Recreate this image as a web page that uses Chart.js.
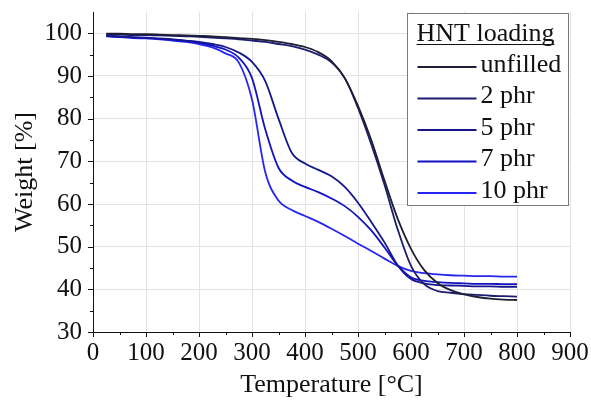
<!DOCTYPE html>
<html>
<head>
<meta charset="utf-8">
<script src="https://cdn.jsdelivr.net/npm/chart.js@4.4.1/dist/chart.umd.min.js"></script>
<style>
  html, body { margin: 0; padding: 0; background: #ffffff; }
  #wrap { width: 591px; height: 403px; }
</style>
</head>
<body>
<div id="wrap"><canvas id="tga" width="591" height="403"></canvas></div>
<script>
// TGA curves: residual weight vs temperature for each HNT loading
const temperature = [25, 50, 75, 100, 125, 150, 175, 200, 225, 250, 275, 300, 325, 350, 375, 400,
  425, 450, 475, 500, 525, 550, 575, 600, 625, 650, 675, 700, 725, 750, 775, 800];

const unfilled = [99.9, 99.9, 99.8, 99.8, 99.7, 99.6, 99.5, 99.4, 99.3, 99.1, 98.9, 98.7, 98.4, 98.0, 97.5, 96.8,
  95.6, 93.5, 89.5, 83.0, 75.0, 65.5, 56.5, 49.5, 44.5, 41.5, 39.8, 38.8, 38.2, 37.8, 37.6, 37.5];

const phr2 = [99.7, 99.7, 99.6, 99.6, 99.5, 99.4, 99.3, 99.2, 99.0, 98.8, 98.6, 98.3, 98.0, 97.5, 97.0, 96.2,
  95.0, 93.2, 89.5, 82.5, 74.0, 64.5, 54.0, 45.5, 41.2, 39.6, 39.2, 38.9, 38.7, 38.5, 38.4, 38.3];

const phr5 = [99.4, 99.3, 99.1, 99.0, 98.8, 98.6, 98.3, 98.0, 97.5, 96.8, 95.5, 93.3, 88.8, 80.0, 72.0, 69.5,
  68.0, 66.5, 64.0, 60.3, 55.8, 51.0, 45.6, 42.4, 41.4, 41.0, 40.9, 40.8, 40.7, 40.7, 40.6, 40.6];

const phr7 = [99.4, 99.2, 99.0, 98.9, 98.7, 98.5, 98.2, 97.8, 97.1, 96.2, 94.3, 89.5, 77.5, 68.5, 65.5, 64.0,
  62.8, 61.3, 59.5, 57.0, 53.8, 49.8, 45.6, 42.8, 42.0, 41.7, 41.5, 41.4, 41.3, 41.3, 41.2, 41.2];

const phr10 = [99.3, 99.1, 98.9, 98.8, 98.6, 98.3, 98.0, 97.5, 96.7, 95.3, 93.2, 84.5, 67.5, 60.8, 58.6, 57.2,
  55.8, 54.2, 52.5, 50.7, 49.0, 47.2, 45.5, 44.3, 43.8, 43.5, 43.3, 43.2, 43.1, 43.1, 43.0, 43.0];

const seriesLabels = ['unfilled', '2 phr', '5 phr', '7 phr', '10 phr'];
const seriesValues = [unfilled, phr2, phr5, phr7, phr10];
const seriesColors = ['#1e1e34', '#1c1c70', '#16168e', '#1212c2', '#2626f2'];

const xTicks = [0, 100, 200, 300, 400, 500, 600, 700, 800, 900];
const yTicks = [30, 40, 50, 60, 70, 80, 90, 100];

const serif = "'Liberation Serif', 'Times New Roman', serif";
const inkColor = '#111111';

const datasets = seriesValues.map((vals, k) => ({
  label: seriesLabels[k],
  data: temperature.map((t, i) => ({ x: t, y: vals[i] })),
  borderColor: seriesColors[k],
  backgroundColor: seriesColors[k],
  borderWidth: 1.8,
  pointRadius: 0,
  fill: false,
  cubicInterpolationMode: 'monotone'
}));

// Major and minor tick marks pointing outward from both axes
const axisTicks = {
  id: 'axisTicks',
  afterDraw(chart) {
    const ctx = chart.ctx;
    const xs = chart.scales.x, ys = chart.scales.y;
    const area = chart.chartArea;
    ctx.save();
    ctx.strokeStyle = inkColor;
    ctx.lineWidth = 1;
    ctx.beginPath();
    for (let v = 0; v <= 900; v += 50) {
      const px = Math.round(xs.getPixelForValue(v)) + 0.5;
      const len = v % 100 === 0 ? 5 : 3;
      ctx.moveTo(px, area.bottom);
      ctx.lineTo(px, area.bottom + len);
    }
    for (let v = 30; v <= 100; v += 5) {
      const py = Math.round(ys.getPixelForValue(v)) + 0.5;
      const len = v % 10 === 0 ? 5 : 3;
      ctx.moveTo(area.left, py);
      ctx.lineTo(area.left - len, py);
    }
    ctx.stroke();
    ctx.restore();
  }
};

// Boxed legend with an underlined heading
const boxedLegend = {
  id: 'boxedLegend',
  afterDraw(chart) {
    const ctx = chart.ctx;
    const area = chart.chartArea;
    const boxRight = area.right - 1.5;
    const boxLeft = boxRight - 161;
    const boxTop = area.top + 1.5;
    const boxBottom = boxTop + 192;
    ctx.save();
    ctx.fillStyle = '#ffffff';
    ctx.fillRect(boxLeft, boxTop, boxRight - boxLeft, boxBottom - boxTop);
    ctx.strokeStyle = '#7a7a7a';
    ctx.lineWidth = 1;
    ctx.strokeRect(boxLeft, boxTop, boxRight - boxLeft, boxBottom - boxTop);

    ctx.font = '26px ' + serif;
    ctx.fillStyle = inkColor;
    ctx.textBaseline = 'alphabetic';
    ctx.textAlign = 'left';
    const title = 'HNT loading';
    const tx = boxLeft + 9;
    const ty = boxTop + 27;
    ctx.fillText(title, tx, ty);
    const tw = ctx.measureText(title).width;
    ctx.strokeStyle = inkColor;
    ctx.lineWidth = 1.2;
    ctx.beginPath();
    ctx.moveTo(tx, ty + 4);
    ctx.lineTo(tx + tw, ty + 4);
    ctx.stroke();

    chart.data.datasets.forEach((ds, k) => {
      const cy = boxTop + 53.5 + k * 31.5;
      ctx.strokeStyle = ds.borderColor;
      ctx.lineWidth = 1.8;
      ctx.beginPath();
      ctx.moveTo(boxLeft + 10, cy);
      ctx.lineTo(boxLeft + 69, cy);
      ctx.stroke();
      ctx.fillStyle = inkColor;
      ctx.textBaseline = 'middle';
      ctx.fillText(ds.label, boxLeft + 73, cy - 2);
    });
    ctx.restore();
  }
};

new Chart(document.getElementById('tga'), {
  type: 'line',
  data: { datasets },
  options: {
    responsive: false,
    animation: false,
    layout: { padding: { top: 12, right: 21, left: 0, bottom: 0 } },
    plugins: { legend: { display: false }, tooltip: { enabled: false } },
    scales: {
      x: {
        type: 'linear',
        min: 0,
        max: 900,
        afterFit(scale) { scale.height = 71; scale.paddingLeft = 0; scale.paddingRight = 0; },
        afterBuildTicks(scale) { scale.ticks = xTicks.map(v => ({ value: v })); },
        grid: { color: '#e2e2e2', lineWidth: 1, drawTicks: false },
        border: { color: inkColor, width: 1 },
        ticks: { color: inkColor, font: { family: serif, size: 25 }, padding: 6, maxRotation: 0, autoSkip: false },
        title: { display: true, text: 'Temperature [°C]', color: inkColor, font: { family: serif, size: 26 }, padding: { top: 0, bottom: 2 } }
      },
      y: {
        type: 'linear',
        min: 30,
        max: 105,
        afterFit(scale) { scale.width = 93; scale.paddingTop = 0; scale.paddingBottom = 0; },
        afterBuildTicks(scale) { scale.ticks = yTicks.map(v => ({ value: v })); },
        grid: { color: '#e2e2e2', lineWidth: 1, drawTicks: false },
        border: { color: inkColor, width: 1 },
        ticks: { color: inkColor, font: { family: serif, size: 25 }, padding: 11, autoSkip: false },
        title: { display: true, text: 'Weight [%]', color: inkColor, font: { family: serif, size: 26 }, padding: { top: 10, bottom: 0 } }
      }
    }
  },
  plugins: [axisTicks, boxedLegend]
});
</script>
</body>
</html>
